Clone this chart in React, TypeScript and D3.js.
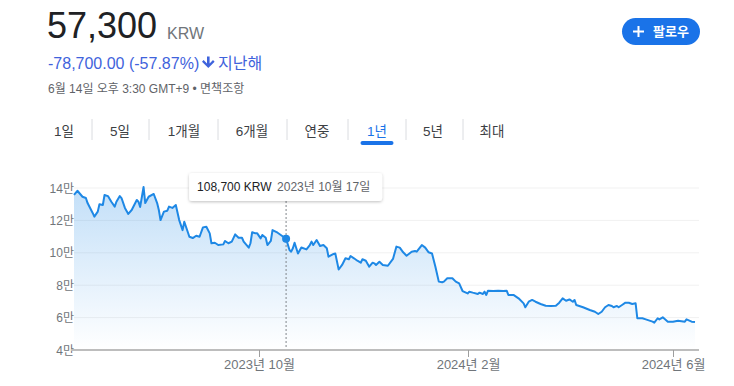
import React from "react";
import * as d3 from "d3";

// price history (KRW)
const dates = [
  "2023-06-14","2023-06-16","2023-06-19","2023-06-21","2023-06-22","2023-06-25","2023-06-26","2023-06-28","2023-06-29","2023-07-01",
  "2023-07-02","2023-07-04","2023-07-06","2023-07-08","2023-07-09","2023-07-11","2023-07-12","2023-07-14","2023-07-16","2023-07-18",
  "2023-07-21","2023-07-22","2023-07-23","2023-07-25","2023-07-26","2023-07-28","2023-07-31","2023-08-02","2023-08-03","2023-08-04",
  "2023-08-06","2023-08-08","2023-08-09","2023-08-11","2023-08-13","2023-08-15","2023-08-17","2023-08-18","2023-08-20","2023-08-21",
  "2023-08-23","2023-08-25","2023-08-27","2023-08-29","2023-08-31","2023-09-02","2023-09-03","2023-09-05","2023-09-07","2023-09-10",
  "2023-09-11","2023-09-13","2023-09-15","2023-09-17","2023-09-19","2023-09-21","2023-09-22","2023-09-25","2023-09-26","2023-09-27",
  "2023-09-29","2023-09-30","2023-10-02","2023-10-03","2023-10-05","2023-10-06","2023-10-08","2023-10-09","2023-10-12","2023-10-17",
  "2023-10-19","2023-10-20","2023-10-21","2023-10-22","2023-10-24","2023-10-26","2023-10-29","2023-10-31","2023-11-01","2023-11-02",
  "2023-11-04","2023-11-06","2023-11-08","2023-11-10","2023-11-11","2023-11-14","2023-11-15","2023-11-17","2023-11-19","2023-11-21",
  "2023-11-23","2023-11-24","2023-11-26","2023-11-28","2023-11-30","2023-12-01","2023-12-03","2023-12-05","2023-12-07","2023-12-08",
  "2023-12-09","2023-12-11","2023-12-13","2023-12-16","2023-12-19","2023-12-21","2023-12-23","2023-12-25","2023-12-27","2023-12-30",
  "2024-01-01","2024-01-02","2024-01-05","2024-01-07","2024-01-09","2024-01-11","2024-01-13","2024-01-15","2024-01-17","2024-01-18",
  "2024-01-20","2024-01-23","2024-01-25","2024-01-27","2024-01-29","2024-02-01","2024-02-02","2024-02-04","2024-02-07","2024-02-08",
  "2024-02-10","2024-02-11","2024-02-12","2024-02-13","2024-02-16","2024-02-19","2024-02-22","2024-02-24","2024-02-25","2024-02-28",
  "2024-03-02","2024-03-05","2024-03-06","2024-03-08","2024-03-10","2024-03-12","2024-03-15","2024-03-18","2024-03-21","2024-03-24",
  "2024-03-26","2024-03-28","2024-03-30","2024-04-01","2024-04-03","2024-04-04","2024-04-05","2024-04-09","2024-04-13","2024-04-16",
  "2024-04-18","2024-04-20","2024-04-22","2024-04-24","2024-04-26","2024-04-27","2024-04-29","2024-04-30","2024-05-02","2024-05-04",
  "2024-05-06","2024-05-08","2024-05-10","2024-05-11","2024-05-14","2024-05-16","2024-05-20","2024-05-21","2024-05-23","2024-05-24",
  "2024-05-26","2024-05-29","2024-06-01","2024-06-04","2024-06-08","2024-06-09","2024-06-12","2024-06-14"
];
const prices = [
  135700,138300,134600,133800,130700,124600,122300,125400,130000,129500,
  135700,135000,131500,128500,131500,135000,133800,127700,124000,126400,
  132600,131500,128300,140600,130700,134600,136300,130700,126400,120200,
  125400,126000,128500,127700,129500,120200,114000,119200,113000,109900,
  109100,110500,109900,115700,116100,112000,105900,106200,104800,105200,
  107300,105900,106900,111400,109300,109300,106900,103200,105900,112700,
  112000,112000,108900,111000,109300,104800,107300,114000,112400,108700,
  101700,100700,102800,106200,99600,103300,102100,104800,106900,104800,
  107900,104200,104800,102800,97600,99300,99600,89700,92500,96600,
  96000,98000,96600,95100,93900,96000,95100,91400,93900,93500,
  92500,94500,92500,92000,96200,103800,103200,100300,98200,100700,
  101100,100700,104800,103200,100300,99600,91400,82200,81800,82200,
  84300,84300,82200,81100,76400,74900,76000,75400,74600,75400,
  74600,76000,74000,76600,76400,76600,76400,76600,74000,74000,
  71900,68800,66400,69800,70900,69800,68400,67300,67200,67300,
  69200,71900,70400,71200,69800,70900,67800,66400,64700,63600,
  62200,63600,66400,67800,67200,66400,67200,66400,67800,69200,
  69200,68400,68800,59600,59600,58900,57500,56900,59600,58900,
  60200,57500,57500,58100,57500,58900,57500,57300
];

const yTicks = [40000, 60000, 80000, 100000, 120000, 140000];
const yTickLabels = ["4만", "6만", "8만", "10만", "12만", "14만"];
const xTickDates = ["2023-10-01", "2024-02-01", "2024-06-01"];
const xTickLabels = ["2023년 10월", "2024년 2월", "2024년 6월"];
const periods = ["1일", "5일", "1개월", "6개월", "연중", "1년", "5년", "최대"];
const activePeriod = "1년";
const hoverDate = "2023-10-17";

const priceText = "57,300";
const currency = "KRW";
const changeText = "-78,700.00 (-57.87%)";
const changePeriod = "지난해";
const timeText = "6월 14일 오후 3:30 GMT+9 • 면책조항";

const FONT = "'Liberation Sans', Arial, 'Noto Sans CJK KR', sans-serif";
const BLUE = "#1a73e8";
const LINE = "#1e88e5";

// tab layout
const tabCenters = [64, 120, 184, 252, 317, 377, 433, 492];
const tabSeparators = [92, 149, 218, 287, 348, 406, 463];

export default function App() {
  const parse = d3.timeParse("%Y-%m-%d");
  const data = dates.map((d, i) => ({ date: parse(d) as Date, value: prices[i] }));

  const x = d3.scaleTime()
    .domain([parse("2023-06-14") as Date, parse("2024-06-14") as Date])
    .range([74, 695]);
  const y = d3.scaleLinear().domain([40000, 140000]).range([350, 188]);

  const line = d3.line<{ date: Date; value: number }>()
    .x(d => x(d.date))
    .y(d => y(d.value));
  const area = d3.area<{ date: Date; value: number }>()
    .x(d => x(d.date))
    .y0(350)
    .y1(d => y(d.value));

  const hover = data.find(d => d3.timeFormat("%Y-%m-%d")(d.date) === hoverDate)!;
  const hx = x(hover.date);
  const hy = y(hover.value);
  const hoverLabel = d3.format(",")(hover.value) + " KRW";
  const hoverDateLabel = d3.timeFormat("%Y년 %-m월 %-d일")(hover.date);

  return (
    <svg width={734} height={386} style={{ position: "absolute", left: 0, top: 0, background: "#fff" }}
      fontFamily={FONT}>
      <defs>
        <linearGradient id="areaGrad" gradientUnits="userSpaceOnUse" x1="0" y1="188" x2="0" y2="350">
          <stop offset="0" stopColor={LINE} stopOpacity={0.27} />
          <stop offset="1" stopColor={LINE} stopOpacity={0} />
        </linearGradient>
        <filter id="shadow" x="-10%" y="-30%" width="120%" height="170%">
          <feDropShadow dx="0" dy="1" stdDeviation="1.5" floodColor="#000" floodOpacity="0.25" />
        </filter>
      </defs>

      {/* header */}
      <text x={47} y={38} fontSize={36} fill="#202124">{priceText}</text>
      <text x={167} y={39} fontSize={16} fill="#70757a">{currency}</text>
      <text x={48} y={68.5} fontSize={16} fill="#3f63dc">{changeText}</text>
      <path d="M207,56.5 h2.6 v7 l3.4,-3.4 1.6,1.6 -6.3,6.3 -6.3,-6.3 1.6,-1.6 3.4,3.4 z" fill="#3f63dc" />
      <text x={218} y={68.5} fontSize={16} fill="#3f63dc">{changePeriod}</text>
      <text x={48} y={93} fontSize={12} fill="#5f6368">{timeText}</text>

      {/* follow button */}
      <rect x={622} y={18} width={78} height={27} rx={13.5} fill={BLUE} />
      <rect x={633} y={30.5} width={11} height={2} fill="#fff" />
      <rect x={637.5} y={26} width={2} height={11} fill="#fff" />
      <text x={653} y={36} fontSize={13} fontWeight={600} fill="#fff">팔로우</text>

      {/* period tabs */}
      {periods.map((p, i) => (
        <text key={p} x={tabCenters[i]} y={136} textAnchor="middle" fontSize={13.5}
          fill={p === activePeriod ? BLUE : "#3c4043"}>{p}</text>
      ))}
      {tabSeparators.map(s => (
        <line key={s} x1={s} x2={s} y1={119} y2={140} stroke="#dadce0" strokeWidth={1} />
      ))}
      <rect x={tabCenters[periods.indexOf(activePeriod)] - 16.5} y={141} width={33} height={4} rx={2} fill={BLUE} />

      {/* grid */}
      {yTicks.slice(1).map(t => (
        <line key={t} x1={74} x2={699} y1={y(t)} y2={y(t)} stroke="#f1f1f1" strokeWidth={1} />
      ))}
      {yTicks.map((t, i) => (
        <text key={t} x={74} y={y(t) + 4.5} textAnchor="end" fontSize={12} fill="#70757a">{yTickLabels[i]}</text>
      ))}

      {/* area + line */}
      <path d={area(data) || ""} fill="url(#areaGrad)" />
      <path d={line(data) || ""} fill="none" stroke={LINE} strokeWidth={2} strokeLinejoin="round" />

      {/* x axis */}
      <line x1={71} x2={699} y1={350} y2={350} stroke="#bdbdbd" strokeWidth={2} />
      {xTickDates.map((t, i) => {
        const tx = Math.round(x(parse(t) as Date)) + 0.5;
        return (
          <g key={t}>
            <line x1={tx} x2={tx} y1={350} y2={357} stroke="#9e9e9e" strokeWidth={1} />
            <text x={tx} y={369} textAnchor="middle" fontSize={13} fill="#70757a">{xTickLabels[i]}</text>
          </g>
        );
      })}

      {/* hover */}
      <line x1={hx} x2={hx} y1={201} y2={349} stroke="#80868b" strokeWidth={1} strokeDasharray="2,2" />
      <circle cx={hx} cy={hy} r={4} fill={LINE} />
      <g filter="url(#shadow)">
        <rect x={hx - 97} y={173} width={193} height={28} rx={3} fill="#fff" />
      </g>
      <text x={hx - 89} y={191} fontSize={12} fill="#202124" fontWeight={500}>{hoverLabel}</text>
      <text x={hx - 9} y={191} fontSize={12} fill="#5f6368">{hoverDateLabel}</text>
    </svg>
  );
}
